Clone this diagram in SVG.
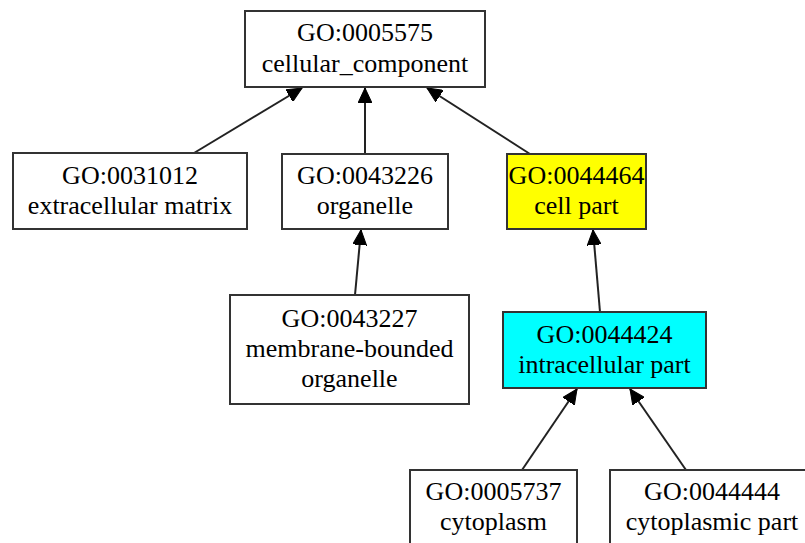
<svg xmlns="http://www.w3.org/2000/svg" width="805" height="543" viewBox="0 0 805 543">
<defs>
<style>
.box{fill:#ffffff;stroke:#333333;stroke-width:2}
.t{font-family:"Liberation Serif","Times New Roman",serif;font-size:26px;fill:#000;text-anchor:middle}
.e{stroke:#222;stroke-width:2;fill:none;marker-end:url(#ah)}
</style>
<marker id="ah" markerUnits="userSpaceOnUse" markerWidth="16" markerHeight="14" refX="15" refY="7" orient="auto">
<path d="M0,0 L15,7 L0,14 Z" fill="#000" stroke="#000" stroke-width="1"/>
</marker>
</defs>
<rect width="805" height="543" fill="#ffffff"/>
<g id="edges">
<line class="e" x1="194" y1="153" x2="302" y2="88"/>
<line class="e" x1="365" y1="154" x2="365" y2="88"/>
<line class="e" x1="530" y1="154" x2="427" y2="88"/>
<line class="e" x1="355" y1="295" x2="361" y2="230"/>
<line class="e" x1="600" y1="312" x2="593" y2="230"/>
<line class="e" x1="522" y1="470" x2="577" y2="389"/>
<line class="e" x1="686" y1="470" x2="630" y2="389"/>
</g>
<g id="GO0005575">
<rect class="box" x="245" y="11" width="240" height="76"/>
<text class="t" x="365" y="41">GO:0005575</text>
<text class="t" x="365" y="72">cellular_component</text>
</g>
<g id="GO0031012">
<rect class="box" x="13" y="153" width="234" height="76"/>
<text class="t" x="130" y="184">GO:0031012</text>
<text class="t" x="130" y="214">extracellular matrix</text>
</g>
<g id="GO0043226">
<rect class="box" x="282" y="154" width="166" height="75"/>
<text class="t" x="365" y="184">GO:0043226</text>
<text class="t" x="365" y="214">organelle</text>
</g>
<g id="GO0044464">
<rect class="box" x="507" y="154" width="139" height="75" style="fill:#ffff00"/>
<text class="t" x="576.5" y="184">GO:0044464</text>
<text class="t" x="576.5" y="214">cell part</text>
</g>
<g id="GO0043227">
<rect class="box" x="230" y="295" width="239" height="109"/>
<text class="t" x="349.5" y="327">GO:0043227</text>
<text class="t" x="349.5" y="357">membrane-bounded</text>
<text class="t" x="349.5" y="387">organelle</text>
</g>
<g id="GO0044424">
<rect class="box" x="503" y="312" width="203" height="76" style="fill:#00ffff"/>
<text class="t" x="604.5" y="343">GO:0044424</text>
<text class="t" x="604.5" y="373">intracellular part</text>
</g>
<g id="GO0005737">
<rect class="box" x="410" y="470" width="167" height="90"/>
<text class="t" x="493.5" y="500">GO:0005737</text>
<text class="t" x="493.5" y="530">cytoplasm</text>
</g>
<g id="GO0044444">
<rect class="box" x="610" y="470" width="204" height="90"/>
<text class="t" x="712" y="500">GO:0044444</text>
<text class="t" x="712" y="530">cytoplasmic part</text>
</g>
</svg>
